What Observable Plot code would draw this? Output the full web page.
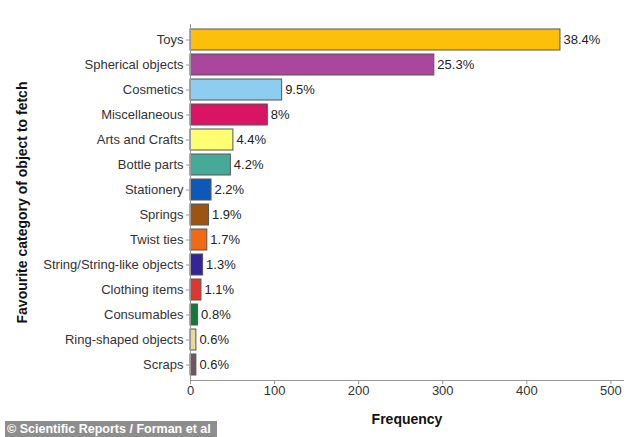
<!DOCTYPE html>
<html>
<head>
<meta charset="utf-8">
<script src="https://cdn.jsdelivr.net/npm/d3@7"></script>
<script src="https://cdn.jsdelivr.net/npm/@observablehq/plot@0.6"></script>
<style>
  html, body { margin: 0; padding: 0; background: #fff; }
  #wrap { position: relative; width: 634px; height: 437px; overflow: hidden; }
  #caption {
    position: absolute; left: 5px; top: 421px; width: 212px; height: 16px;
    background: #8e8e8e; color: #fff; font: bold 12.5px "Liberation Sans", Arial, sans-serif;
    line-height: 16px; padding-left: 2px; box-sizing: border-box; white-space: nowrap;
  }
  g[aria-label="x-axis label"] text, g[aria-label="y-axis label"] text { font-weight: bold; font-size: 14px; fill: #111; }
</style>
</head>
<body>
<div id="wrap"><div id="chart"></div><div id="caption">© Scientific Reports / Forman et al</div></div>
<script>
const categories = ["Toys", "Spherical objects", "Cosmetics", "Miscellaneous", "Arts and Crafts", "Bottle parts", "Stationery", "Springs", "Twist ties", "String/String-like objects", "Clothing items", "Consumables", "Ring-shaped objects", "Scraps"];
const counts = [440, 290, 109, 92, 51, 48, 25, 22, 20, 15, 13, 9, 7, 7];
const percentLabels = ["38.4%", "25.3%", "9.5%", "8%", "4.4%", "4.2%", "2.2%", "1.9%", "1.7%", "1.3%", "1.1%", "0.8%", "0.6%", "0.6%"];
const barColors = ["#FCC00A", "#A8479B", "#8DCDEF", "#D81565", "#FFFF73", "#47AA98", "#0C59B8", "#9C5410", "#EE6A14", "#352497", "#E0362E", "#137A3A", "#EDDA90", "#6D575A"];
const xTicks = [0, 100, 200, 300, 400, 500];

const data = categories.map((c, i) => ({category: c, count: counts[i], label: percentLabels[i], color: barColors[i]}));

const chart = Plot.plot({
  width: 634, height: 437,
  marginLeft: 190, marginRight: 11, marginTop: 24, marginBottom: 57,
  style: {fontFamily: "'Liberation Sans', Arial, sans-serif", fontSize: "13px", color: "#333", background: "white"},
  x: {domain: [0, 515]},
  y: {domain: categories, paddingInner: 0.17, paddingOuter: 0.185},
  color: {type: "identity"},
  marks: [
    Plot.barX(data, {x: "count", y: "category", fill: "color", stroke: "#555", strokeWidth: 1}),
    Plot.text(data, {x: "count", y: "category", text: "label", textAnchor: "start", dx: 3, fill: "#222", fontSize: 13}),
    Plot.axisX({ticks: xTicks, tickSize: 4, tickPadding: 1, stroke: "#999", fill: "#333", label: "Frequency", labelArrow: "none", labelAnchor: "center", labelOffset: 43}),
    Plot.axisY({tickSize: 4, tickPadding: 3, stroke: "#999", fill: "#333", label: "Favourite category of object to fetch", labelArrow: "none", labelAnchor: "center", labelOffset: 173}),
    Plot.frame({anchor: "left", stroke: "#999"}),
    Plot.frame({anchor: "bottom", stroke: "#999"})
  ]
});
document.getElementById("chart").appendChild(chart);
</script>
</body>
</html>
